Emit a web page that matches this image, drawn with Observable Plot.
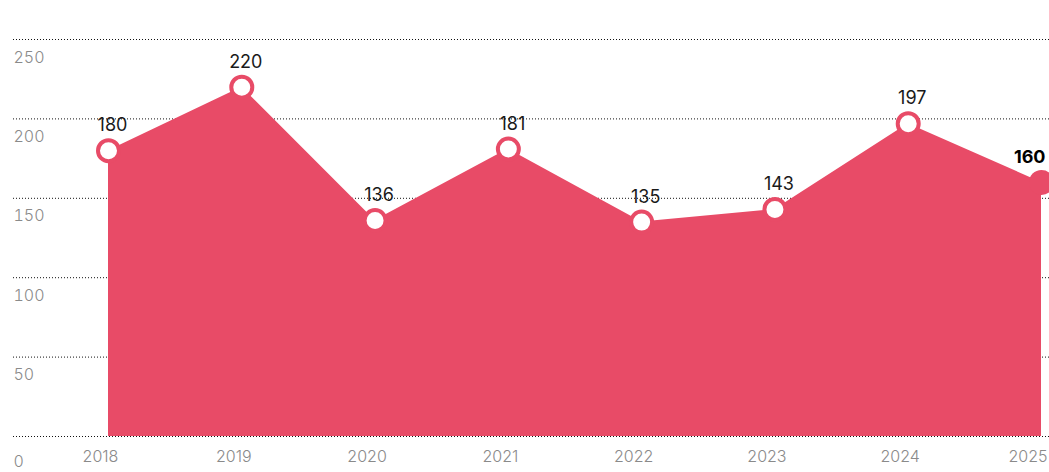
<!DOCTYPE html>
<html><head><meta charset="utf-8">
<script src="https://cdn.jsdelivr.net/npm/d3@7"></script>
<script src="https://cdn.jsdelivr.net/npm/@observablehq/plot@0.6"></script>
<style>html,body{margin:0;padding:0;background:#fff;overflow:hidden} svg{display:block}</style>
</head><body><div id="chart"></div>
<script>
const years = [2018, 2019, 2020, 2021, 2022, 2023, 2024, 2025];
const values = [180, 220, 136, 181, 135, 143, 197, 160];
const yTicks = [0, 50, 100, 150, 200, 250];

const data = years.map((year, i) => ({year, value: values[i]}));
const head = data.slice(0, -1);
const last = data.slice(-1);
const RED = "#e84b67";
const GREY = "#8a8a8a";

const chart = Plot.plot({
  width: 1049, height: 472,
  marginLeft: 108, marginRight: 8, marginTop: 39, marginBottom: 36,
  x: {domain: [2018, 2025], axis: null},
  y: {domain: [0, 250], axis: null},
  style: {fontFamily: "Inter, 'Open Sans', sans-serif", background: "#fff"},
  marks: [
    Plot.ruleY(yTicks.filter(d => d > 0), {stroke: "#111", strokeWidth: 1, strokeDasharray: "1,2", insetLeft: -95, insetRight: -8}),
    Plot.areaY(data, {x: "year", y: "value", fill: RED}),
    Plot.ruleY([0], {stroke: "#111", strokeWidth: 1, strokeDasharray: "1,2", insetLeft: -95, insetRight: -8}),
    Plot.text(yTicks.filter(d => d > 0), {y: d => d, frameAnchor: "left", dx: -95, dy: 18, textAnchor: "start", fill: GREY, fontSize: 16, fontWeight: 300}),
    Plot.text([0], {y: d => d, frameAnchor: "left", dx: -95, dy: 25, textAnchor: "start", fill: GREY, fontSize: 16, fontWeight: 300}),
    Plot.text(head, {x: "year", frameAnchor: "bottom", text: d => String(d.year), dy: 25, dx: -8, fill: GREY, fontSize: 16, fontWeight: 300}),
    Plot.text(last, {x: "year", frameAnchor: "bottom", text: d => String(d.year), dy: 25, dx: 6, textAnchor: "end", fill: GREY, fontSize: 16, fontWeight: 300}),
    Plot.dot(head, {x: "year", y: "value", r: 10.5, fill: "white", stroke: RED, strokeWidth: 4}),
    Plot.dot(last, {x: "year", y: "value", r: 12.5, fill: RED}),
    Plot.text(head, {x: "year", y: "value", text: d => String(d.value), dy: -25, dx: 4, fill: "#1a1a1a", fontSize: 18, fontWeight: 400}),
    Plot.text(last, {x: "year", y: "value", text: d => String(d.value), dy: -25, dx: 4, textAnchor: "end", fill: "#000", fontSize: 18, fontWeight: 700})
  ]
});
document.getElementById("chart").append(chart);
</script>
</body></html>
